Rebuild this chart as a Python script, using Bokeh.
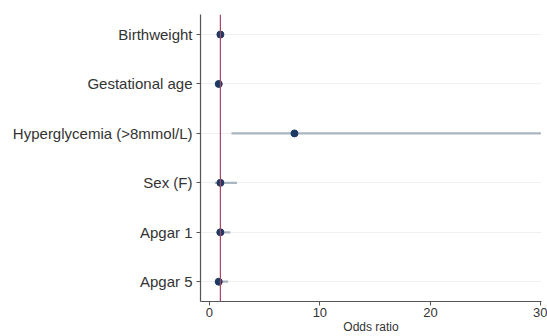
from bokeh.plotting import figure
from bokeh.models import Range1d, FixedTicker, Span, ColumnDataSource
from bokeh.embed import file_html
from bokeh.resources import INLINE

# Data
variables = ["Birthweight", "Gestational age", "Hyperglycemia (>8mmol/L)", "Sex (F)", "Apgar 1", "Apgar 5"]
odds_ratio = [1.0, 0.85, 7.7, 1.0, 1.0, 0.85]
ci_lower = [0.9, 0.8, 2.0, 0.5, 0.6, 0.5]
ci_upper = [1.1, 0.95, 30.0, 2.5, 1.9, 1.7]
x_ticks = [0, 10, 20, 30]

n = len(variables)
ypos = [n - i for i in range(n)]
src = ColumnDataSource(dict(y=ypos, orr=odds_ratio, lo=ci_lower, hi=ci_upper))

FONT = "Liberation Sans"

p = figure(width=547, height=336, output_backend="svg", toolbar_location=None,
           x_range=Range1d(-0.8, 30.05), y_range=Range1d(0.6, 6.405),
           min_border_left=200, min_border_top=14, min_border_right=6, min_border_bottom=20)
p.outline_line_color = None
p.background_fill_color = "white"

# grid
p.xgrid.grid_line_color = None
p.ygrid.grid_line_color = "#eef1f2"
p.ygrid.grid_line_width = 1

# CI lines
p.segment(x0="lo", x1="hi", y0="y", y1="y", source=src, line_color="#aab6c0", line_width=2.2)
# reference line at OR = 1
p.add_layout(Span(location=1, dimension="height", line_color="#ad4463", line_width=1.2))
# points
p.scatter(x="orr", y="y", source=src, size=7, fill_color="#1d3a63", line_color="#1d3a63")

# axes
p.yaxis.ticker = FixedTicker(ticks=ypos)
p.yaxis.major_label_overrides = {y: v for y, v in zip(ypos, variables)}
p.xaxis.ticker = FixedTicker(ticks=x_ticks)
p.xaxis.axis_label = "Odds ratio"

for ax in (p.xaxis[0], p.yaxis[0]):
    ax.axis_line_color = "#555555"
    ax.axis_line_width = 1.2
    ax.major_tick_line_color = "#555555"
    ax.major_tick_out = 4
    ax.major_tick_in = 0
    ax.minor_tick_line_color = None
    ax.major_label_text_font = FONT
    ax.major_label_text_color = "#333333"

p.yaxis.major_label_text_font_size = "15px"
p.yaxis.major_label_standoff = 4
p.xaxis.major_label_text_font_size = "13px"
p.xaxis.major_label_standoff = 2

p.xaxis.axis_label_text_font = FONT
p.xaxis.axis_label_text_font_size = "12px"
p.xaxis.axis_label_text_font_style = "normal"
p.xaxis.axis_label_text_color = "#333333"
p.xaxis.axis_label_standoff = 0

open("out.html", "w").write(file_html(p, INLINE))
